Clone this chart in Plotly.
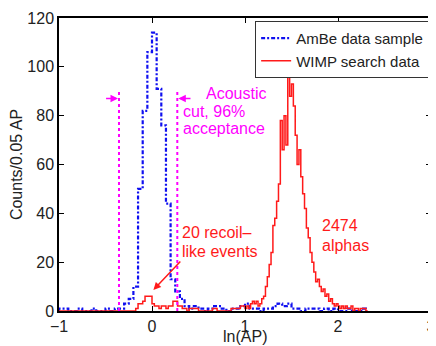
import plotly.graph_objects as go

# ---------------- data ----------------
# AmBe calibration histogram: 0.05-wide bins starting at ln(AP) = -1.0
ambe_start = -1.0
ambe_width = 0.05
ambe_counts = [1, 1, 0, 0, 1, 0, 0, 1, 0, 0,
               1, 0, 1, 1, 3, 5, 10, 50, 82, 106,
               114, 91, 76, 44, 13, 8, 5, 2, 1, 2,
               1, 0, 1, 2, 2, 1, 0, 1, 1, 2,
               3, 1, 1, 0, 1, 1, 2, 3, 2, 3,
               1, 1, 0, 1, 1, 1, 0, 1, 0, 1,
               0, 0, 1, 0, 0, 1]

# WIMP search data, recoil-like region (0.025-wide bins)
wimp_recoil_start = -0.175
wimp_recoil_width = 0.025
wimp_recoil_counts = [1, 3, 3, 4, 6, 6, 6, 3, 2, 2,
                      1, 2, 2, 1, 2, 2, 4, 4, 2, 2,
                      1, 1, 0]

# WIMP search data, between the populations (0.05-wide bins)
wimp_mid_start = 0.4
wimp_mid_width = 0.05
wimp_mid_counts = [1, 1, 0, 0, 0, 1, 0, 0, 0, 1, 1, 2]

# WIMP search data, alpha population (0.02-wide bins)
wimp_alpha_start = 1.0
wimp_alpha_width = 0.02
wimp_alpha_counts = [1, 2, 1, 3, 4, 3, 4, 2, 3, 5,
                     6, 10, 14, 19, 24, 35, 38, 45, 52, 78,
                     66, 80, 68, 106, 88, 93, 84, 72, 60, 66,
                     55, 48, 42, 34, 30, 24, 20, 16, 12, 13,
                     10, 8, 9, 6, 7, 4, 5, 3, 2, 3,
                     2, 1, 2, 1, 2, 1, 1, 2, 0, 1,
                     1, 0, 1, 1, 1, 0]

# acoustic cut
cut_positions = [-0.355, 0.272]
cut_top = 90
cut_arrow_y = 87
cut_arrow_tails = [-0.51, 0.43]

x_ticks = [-1, 0, 1, 2, 3]
y_ticks = [0, 20, 40, 60, 80, 100, 120]

BLUE = "#1010f0"
RED = "#ff1a1a"
MAGENTA = "#ff00ff"
FONT = "Liberation Sans, Arial, sans-serif"


def build_steps(segments, x_min):
    xs, ys = [x_min], [0]
    end, last = x_min, 0
    for start, width, counts in segments:
        for i, c in enumerate(counts):
            xs.append(start + i * width)
            ys.append(c)
        end = start + len(counts) * width
        last = counts[-1]
    xs += [end, end]
    ys += [last, 0]
    return xs, ys


ambe_x, ambe_y = build_steps([(ambe_start, ambe_width, ambe_counts)], -1.0)
wimp_x, wimp_y = build_steps([
    (wimp_recoil_start, wimp_recoil_width, wimp_recoil_counts),
    (wimp_mid_start, wimp_mid_width, wimp_mid_counts),
    (wimp_alpha_start, wimp_alpha_width, wimp_alpha_counts),
], -1.0)

fig = go.Figure()
fig.add_trace(go.Scatter(
    x=ambe_x, y=ambe_y, mode="lines", line_shape="hv",
    line=dict(color=BLUE, width=2.2, dash="4px,2px,2px,2px"),
    name="AmBe data sample"))
fig.add_trace(go.Scatter(
    x=wimp_x, y=wimp_y, mode="lines", line_shape="hv",
    line=dict(color=RED, width=1.5),
    name="WIMP search data"))

shapes = []
for xc in cut_positions:
    shapes.append(dict(type="line", xref="x", yref="y", x0=xc, x1=xc,
                       y0=0, y1=cut_top,
                       line=dict(color=MAGENTA, width=2, dash="dot")))

annotations = []
for xc, xt in zip(cut_positions, cut_arrow_tails):
    annotations.append(dict(x=xc, y=cut_arrow_y, ax=xt, ay=cut_arrow_y,
                            xref="x", yref="y", axref="x", ayref="y",
                            text="", showarrow=True, arrowhead=2,
                            arrowsize=1, arrowwidth=1.5,
                            arrowcolor=MAGENTA, standoff=1))

def label(text, x, y, color):
    return dict(x=x, y=y, xref="x", yref="y", text=text, showarrow=False,
                xanchor="left", yanchor="middle", xshift=-3,
                borderpad=0,
                font=dict(family=FONT, size=16, color=color))

annotations += [
    label("Acoustic", 0.6, 89, MAGENTA),
    label("cut, 96%", 0.36, 81.8, MAGENTA),
    label("acceptance", 0.36, 74.8, MAGENTA),
    label("20 recoil–", 0.34, 32, RED),
    label("like events", 0.34, 24.2, RED),
    label("2474", 1.85, 35, RED),
    label("alphas", 1.85, 27, RED),
]
# arrow pointing at the recoil-like events
annotations.append(dict(x=0.015, y=8.6, ax=0.32, ay=20.9,
                        xref="x", yref="y", axref="x", ayref="y",
                        text="", showarrow=True, arrowhead=2,
                        arrowsize=1, arrowwidth=1.5, arrowcolor=RED))
# x-axis title
annotations.append(dict(x=0.5, y=-0.1195, xref="paper", yref="paper",
                        text="ln(AP)", showarrow=False, borderpad=0,
                        xanchor="center", yanchor="bottom",
                        font=dict(family=FONT, size=16, color="#222")))

axis_common = dict(showline=True, linecolor="black", linewidth=1.5,
                   mirror="ticks", ticks="inside", ticklen=5,
                   tickcolor="black", showgrid=False, zeroline=False,
                   automargin=False,
                   tickfont=dict(family=FONT, size=16, color="#222"))

# page body has an 8px margin, so the figure is sized to fit inside it
fig.update_layout(
    width=428, height=338,
    margin=dict(l=51, r=5, t=10, b=35, autoexpand=False),
    paper_bgcolor="white", plot_bgcolor="white",
    font=dict(family=FONT, size=16, color="#222"),
    xaxis=dict(range=[-1, 3], tickvals=x_ticks, **axis_common),
    yaxis=dict(range=[0, 120], tickvals=y_ticks,
               title=dict(text="Counts/0.05 AP", standoff=3,
                          font=dict(family=FONT, size=16)),
               **axis_common),
    legend=dict(x=0.995, y=0.99, xanchor="right", yanchor="top",
                bgcolor="white", bordercolor="#333", borderwidth=1,
                font=dict(family=FONT, size=15, color="#222"),
                tracegroupgap=0, itemwidth=30),
    shapes=shapes, annotations=annotations,
)

fig.write_html("out.html")
